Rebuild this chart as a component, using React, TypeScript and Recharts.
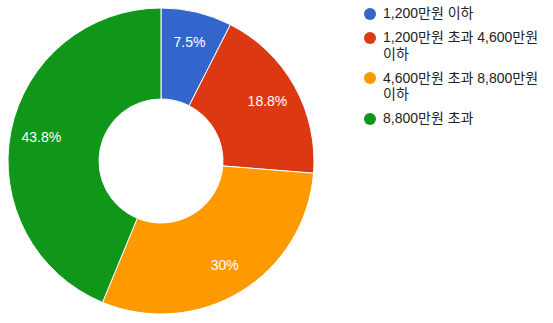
import { PieChart, Pie, Cell, Legend } from 'recharts';

const categories = ['1,200만원 이하', '1,200만원 초과 4,600만원 이하', '4,600만원 초과 8,800만원 이하', '8,800만원 초과'];
const values = [7.5, 18.8, 30, 43.8];
const COLORS = ['#3366cc', '#dc3912', '#ff9900', '#109618'];

const FONT = '"Liberation Sans", Arial, "Noto Sans CJK KR", sans-serif';
const RAD = Math.PI / 180;

const data = categories.map((name, i) => ({ name, value: values[i] }));

function renderLabel(props: any) {
  const { cx, cy, midAngle, index } = props;
  const r = 122;
  const x = cx + r * Math.cos(-midAngle * RAD);
  const y = cy + r * Math.sin(-midAngle * RAD);
  return (
    <text x={x} y={y} fill="#ffffff" textAnchor="middle" dominantBaseline="central" fontSize={14} fontFamily={FONT}>
      {`${values[index]}%`}
    </text>
  );
}

function LegendContent() {
  return (
    <div style={{ fontFamily: FONT, fontSize: 14, color: '#222222' }}>
      {categories.map((c, i) => (
        <div key={c} style={{ display: 'flex', alignItems: 'flex-start', marginBottom: 7.5 }}>
          <span
            style={{
              width: 12,
              height: 12,
              borderRadius: 6,
              background: COLORS[i],
              marginTop: 2.5,
              marginRight: 7,
              flexShrink: 0,
            }}
          />
          <span style={{ width: 168, lineHeight: '16.5px', wordBreak: 'keep-all' }}>{c}</span>
        </div>
      ))}
    </div>
  );
}

export default function App() {
  return (
    <div style={{ position: 'absolute', left: 0, top: 0, width: 553, height: 323, background: '#fff' }}>
      <PieChart width={553} height={323} margin={{ top: 0, right: 0, bottom: 0, left: 0 }}>
        <Legend
          content={<LegendContent />}
          layout="vertical"
          align="right"
          verticalAlign="top"
          wrapperStyle={{ top: 5, left: 364, width: 189 }}
        />
        <Pie
          data={data}
          dataKey="value"
          cx={161}
          cy={161}
          innerRadius={62}
          outerRadius={153}
          startAngle={90}
          endAngle={-270}
          stroke="#ffffff"
          strokeWidth={1}
          labelLine={false}
          label={renderLabel}
          isAnimationActive={false}
        >
          {data.map((entry, index) => (
            <Cell key={`cell-${index}`} fill={COLORS[index % COLORS.length]} />
          ))}
        </Pie>
      </PieChart>
    </div>
  );
}
